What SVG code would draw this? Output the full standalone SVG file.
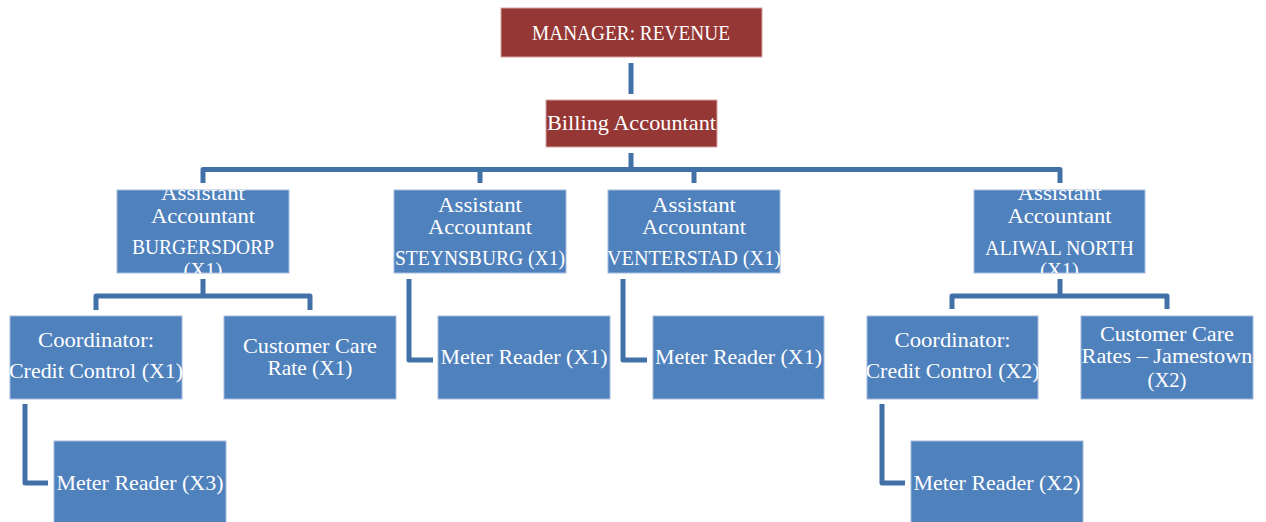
<svg xmlns="http://www.w3.org/2000/svg" width="1266" height="522" viewBox="0 0 1266 522">
  <style>
    .red { fill: #953735; stroke: #d8a5a4; stroke-width: 1; }
    .blue { fill: #4f81bd; stroke: #a3bcdc; stroke-width: 1; }
    .lbl { font-family: "Liberation Serif", "Times New Roman", serif; font-size: 22px; fill: #ffffff; text-anchor: middle; }
    .conn { fill: none; stroke: #4171a7; stroke-width: 5; stroke-linejoin: round; stroke-linecap: butt; }
  </style>
  <defs>
    <clipPath id="clipBurgersdorp"><rect x="117" y="190" width="172" height="83"/></clipPath>
    <clipPath id="clipSteynsburg"><rect x="394" y="190" width="172" height="83"/></clipPath>
    <clipPath id="clipVenterstad"><rect x="608" y="190" width="172" height="83"/></clipPath>
    <clipPath id="clipAliwal"><rect x="974" y="190" width="171" height="83"/></clipPath>
    <clipPath id="clipCoord1"><rect x="10" y="316" width="172" height="83"/></clipPath>
    <clipPath id="clipCoord2"><rect x="867" y="316" width="171" height="83"/></clipPath>
    <clipPath id="clipRates2"><rect x="1081" y="316" width="172" height="83"/></clipPath>
  </defs>

  <rect width="1266" height="522" fill="#ffffff"/>

  <!-- connectors -->
  <g id="connectors">
    <path class="conn" d="M631,63 V94"/>
    <path class="conn" d="M631,153 V169.5"/>
    <path class="conn" d="M203,183 V169.5 H1060 V183"/>
    <path class="conn" d="M480,169.5 V183"/>
    <path class="conn" d="M694,169.5 V183"/>
    <path class="conn" d="M203,279 V296"/>
    <path class="conn" d="M96,310 V296 H310 V310"/>
    <path class="conn" d="M1060,279 V296"/>
    <path class="conn" d="M952,309 V296 H1167 V309"/>
    <path class="conn" d="M409,279 V360 H433"/>
    <path class="conn" d="M623,279 V360 H647"/>
    <path class="conn" d="M25,404 V483 H48"/>
    <path class="conn" d="M882,404 V483 H905"/>
  </g>

  <!-- top level -->
  <g id="manager-revenue">
    <rect class="red" x="501" y="8" width="261" height="49"/>
    <text class="lbl" x="631" y="40" textLength="198" lengthAdjust="spacingAndGlyphs">MANAGER: REVENUE</text>
  </g>
  <g id="billing-accountant">
    <rect class="red" x="546" y="100" width="171" height="47"/>
    <text class="lbl" x="631.5" y="130" textLength="169" lengthAdjust="spacingAndGlyphs">Billing Accountant</text>
  </g>

  <!-- assistant accountants -->
  <g id="assistant-burgersdorp">
    <rect class="blue" x="117" y="190" width="172" height="83"/>
    <g clip-path="url(#clipBurgersdorp)">
      <text class="lbl" x="203" y="200" textLength="84" lengthAdjust="spacingAndGlyphs">Assistant</text>
      <text class="lbl" x="203" y="223" textLength="104" lengthAdjust="spacingAndGlyphs">Accountant</text>
      <text class="lbl" x="203" y="254" textLength="142" lengthAdjust="spacingAndGlyphs">BURGERSDORP</text>
      <text class="lbl" x="203" y="277" textLength="39" lengthAdjust="spacingAndGlyphs">(X1)</text>
    </g>
  </g>
  <g id="assistant-steynsburg">
    <rect class="blue" x="394" y="190" width="172" height="83"/>
    <g clip-path="url(#clipSteynsburg)">
      <text class="lbl" x="480" y="212" textLength="84" lengthAdjust="spacingAndGlyphs">Assistant</text>
      <text class="lbl" x="480" y="234" textLength="104" lengthAdjust="spacingAndGlyphs">Accountant</text>
      <text class="lbl" x="480" y="265" textLength="170" lengthAdjust="spacingAndGlyphs">STEYNSBURG (X1)</text>
    </g>
  </g>
  <g id="assistant-venterstad">
    <rect class="blue" x="608" y="190" width="172" height="83"/>
    <g clip-path="url(#clipVenterstad)">
      <text class="lbl" x="694" y="212" textLength="84" lengthAdjust="spacingAndGlyphs">Assistant</text>
      <text class="lbl" x="694" y="234" textLength="104" lengthAdjust="spacingAndGlyphs">Accountant</text>
      <text class="lbl" x="694" y="265" textLength="174" lengthAdjust="spacingAndGlyphs">VENTERSTAD (X1)</text>
    </g>
  </g>
  <g id="assistant-aliwal-north">
    <rect class="blue" x="974" y="190" width="171" height="83"/>
    <g clip-path="url(#clipAliwal)">
      <text class="lbl" x="1059.5" y="200" textLength="84" lengthAdjust="spacingAndGlyphs">Assistant</text>
      <text class="lbl" x="1059.5" y="223" textLength="104" lengthAdjust="spacingAndGlyphs">Accountant</text>
      <text class="lbl" x="1059.5" y="255" textLength="149" lengthAdjust="spacingAndGlyphs">ALIWAL NORTH</text>
      <text class="lbl" x="1059.5" y="277" textLength="39" lengthAdjust="spacingAndGlyphs">(X1)</text>
    </g>
  </g>

  <!-- third level -->
  <g id="coordinator-credit-control-x1">
    <rect class="blue" x="10" y="316" width="172" height="83"/>
    <g clip-path="url(#clipCoord1)">
      <text class="lbl" x="96" y="347" textLength="116" lengthAdjust="spacingAndGlyphs">Coordinator:</text>
      <text class="lbl" x="96" y="378" textLength="174" lengthAdjust="spacingAndGlyphs">Credit Control (X1)</text>
    </g>
  </g>
  <g id="customer-care-rate">
    <rect class="blue" x="224" y="316" width="172" height="83"/>
    <text class="lbl" x="310" y="353" textLength="134" lengthAdjust="spacingAndGlyphs">Customer Care</text>
    <text class="lbl" x="310" y="375" textLength="85" lengthAdjust="spacingAndGlyphs">Rate (X1)</text>
  </g>
  <g id="meter-reader-steynsburg">
    <rect class="blue" x="438" y="316" width="172" height="83"/>
    <text class="lbl" x="524" y="364" textLength="167" lengthAdjust="spacingAndGlyphs">Meter Reader (X1)</text>
  </g>
  <g id="meter-reader-venterstad">
    <rect class="blue" x="653" y="316" width="171" height="83"/>
    <text class="lbl" x="738.5" y="364" textLength="167" lengthAdjust="spacingAndGlyphs">Meter Reader (X1)</text>
  </g>
  <g id="coordinator-credit-control-x2">
    <rect class="blue" x="867" y="316" width="171" height="83"/>
    <g clip-path="url(#clipCoord2)">
      <text class="lbl" x="952.5" y="347" textLength="116" lengthAdjust="spacingAndGlyphs">Coordinator:</text>
      <text class="lbl" x="952.5" y="378" textLength="174" lengthAdjust="spacingAndGlyphs">Credit Control (X2)</text>
    </g>
  </g>
  <g id="customer-care-rates-jamestown">
    <rect class="blue" x="1081" y="316" width="172" height="83"/>
    <g clip-path="url(#clipRates2)">
      <text class="lbl" x="1167" y="341" textLength="134" lengthAdjust="spacingAndGlyphs">Customer Care</text>
      <text class="lbl" x="1167" y="363" textLength="171" lengthAdjust="spacingAndGlyphs">Rates – Jamestown</text>
      <text class="lbl" x="1167" y="387" textLength="39" lengthAdjust="spacingAndGlyphs">(X2)</text>
    </g>
  </g>

  <!-- fourth level -->
  <g id="meter-reader-x3">
    <rect class="blue" x="54" y="441" width="172" height="83"/>
    <text class="lbl" x="140" y="490" textLength="167" lengthAdjust="spacingAndGlyphs">Meter Reader (X3)</text>
  </g>
  <g id="meter-reader-x2">
    <rect class="blue" x="911" y="441" width="172" height="83"/>
    <text class="lbl" x="997" y="490" textLength="167" lengthAdjust="spacingAndGlyphs">Meter Reader (X2)</text>
  </g>
</svg>
